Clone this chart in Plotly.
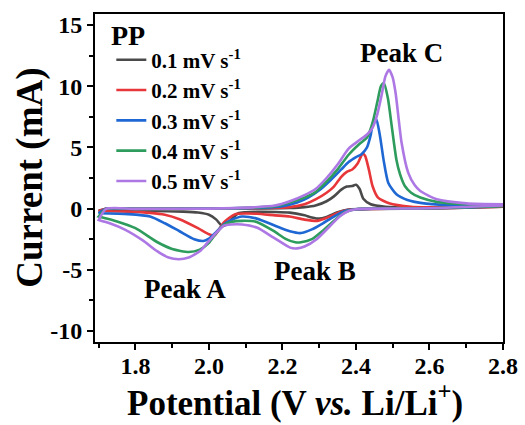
import plotly.graph_objects as go

# ---------------- data ----------------
scan_rates = ["0.1 mV s<sup>-1</sup>", "0.2 mV s<sup>-1</sup>", "0.3 mV s<sup>-1</sup>",
              "0.4 mV s<sup>-1</sup>", "0.5 mV s<sup>-1</sup>"]
colors = ["#4a4a4a", "#e8373a", "#1f68d4", "#2e9c5c", "#ad78e4"]

# 0.1 mV/s
v01_cath = [2.80, 2.60, 2.45, 2.38, 2.35, 2.32, 2.30, 2.28, 2.26, 2.22, 2.18, 2.13, 2.10, 2.08, 2.06, 2.045, 2.035, 2.02, 2.00, 1.97, 1.93, 1.85, 1.70]
i01_cath = [0.15, 0.02, -0.02, -0.08, -0.3, -0.68, -0.82, -0.72, -0.55, -0.33, -0.28, -0.27, -0.3, -0.38, -0.9, -1.35, -1.4, -0.9, -0.5, -0.32, -0.25, -0.2, -0.18]
v01_anod = [1.70, 1.72, 1.80, 2.00, 2.15, 2.22, 2.26, 2.29, 2.32, 2.34, 2.36, 2.375, 2.39, 2.40, 2.41, 2.42, 2.44, 2.48, 2.55, 2.65, 2.80]
i01_anod = [-0.18, -0.02, -0.02, 0.0, 0.02, 0.05, 0.12, 0.25, 0.6, 1.0, 1.55, 1.8, 1.85, 1.95, 1.6, 0.8, 0.35, 0.15, 0.08, 0.1, 0.15]

# 0.2 mV/s
v02_cath = [2.80, 2.60, 2.45, 2.38, 2.355, 2.33, 2.295, 2.26, 2.22, 2.18, 2.13, 2.10, 2.07, 2.04, 2.015, 2.00, 1.97, 1.92, 1.88, 1.84, 1.78, 1.70]
i02_cath = [0.15, 0.02, -0.02, -0.1, -0.3, -0.65, -1.0, -0.9, -0.65, -0.55, -0.42, -0.4, -0.47, -1.14, -2.2, -2.1, -1.6, -0.87, -0.5, -0.35, -0.25, -0.2]
v02_anod = [1.70, 1.72, 1.80, 2.00, 2.15, 2.22, 2.26, 2.29, 2.32, 2.34, 2.36, 2.375, 2.39, 2.405, 2.418, 2.425, 2.435, 2.445, 2.46, 2.49, 2.55, 2.65, 2.80]
i02_anod = [-0.2, -0.02, -0.02, 0.0, 0.05, 0.12, 0.35, 0.75, 1.3, 1.8, 2.6, 3.0, 3.2, 3.7, 4.5, 4.3, 3.2, 1.85, 0.9, 0.43, 0.15, 0.1, 0.15]

# 0.3 mV/s
v03_cath = [2.80, 2.60, 2.45, 2.40, 2.37, 2.34, 2.31, 2.28, 2.25, 2.22, 2.18, 2.13, 2.09, 2.06, 2.04, 2.02, 2.00, 1.985, 1.96, 1.92, 1.88, 1.84, 1.78, 1.70]
i03_cath = [0.2, 0.03, 0.0, -0.05, -0.2, -0.65, -1.2, -1.7, -2.0, -1.85, -1.4, -0.82, -0.65, -0.95, -1.3, -1.9, -2.45, -2.65, -2.5, -1.85, -1.2, -0.65, -0.45, -0.38]
v03_anod = [1.70, 1.72, 1.80, 2.00, 2.15, 2.20, 2.24, 2.27, 2.30, 2.33, 2.36, 2.38, 2.40, 2.415, 2.43, 2.44, 2.448, 2.455, 2.465, 2.475, 2.488, 2.51, 2.54, 2.58, 2.65, 2.80]
i03_anod = [-0.38, -0.02, -0.02, 0.0, 0.08, 0.2, 0.5, 0.9, 1.5, 2.3, 3.2, 3.8, 4.2, 4.45, 5.0, 6.0, 7.2, 7.3, 6.0, 4.0, 2.1, 1.17, 0.7, 0.45, 0.3, 0.2]

# 0.4 mV/s
v04_cath = [2.80, 2.60, 2.45, 2.40, 2.37, 2.34, 2.31, 2.28, 2.25, 2.235, 2.21, 2.176, 2.13, 2.09, 2.06, 2.04, 2.02, 2.00, 1.975, 1.945, 1.90, 1.86, 1.80, 1.75, 1.70]
i04_cath = [0.2, 0.03, 0.0, -0.05, -0.3, -1.0, -1.8, -2.5, -2.75, -2.75, -2.5, -1.83, -1.09, -1.0, -1.1, -1.35, -2.0, -2.8, -3.35, -3.55, -3.3, -2.75, -1.6, -1.05, -0.65]
v04_anod = [1.70, 1.72, 1.80, 2.00, 2.12, 2.18, 2.22, 2.26, 2.29, 2.32, 2.35, 2.38, 2.41, 2.43, 2.445, 2.458, 2.468, 2.476, 2.487, 2.497, 2.51, 2.52, 2.533, 2.55, 2.575, 2.62, 2.70, 2.80]
i04_anod = [-0.65, -0.02, -0.02, 0.0, 0.08, 0.2, 0.5, 0.9, 1.35, 2.2, 3.2, 4.4, 5.3, 5.8, 7.0, 8.7, 10.0, 10.25, 9.0, 6.8, 4.0, 2.8, 1.85, 1.3, 0.9, 0.55, 0.35, 0.25]

# 0.5 mV/s
v05_cath = [2.80, 2.60, 2.45, 2.40, 2.38, 2.357, 2.33, 2.293, 2.26, 2.24, 2.221, 2.176, 2.13, 2.09, 2.06, 2.04, 2.013, 1.99, 1.977, 1.945, 1.918, 1.89, 1.86, 1.82, 1.77, 1.73, 1.70]
i05_cath = [0.25, 0.03, 0.0, -0.05, -0.2, -0.6, -1.4, -2.5, -3.1, -3.25, -3.19, -2.37, -1.55, -1.3, -1.3, -1.4, -2.2, -3.0, -3.45, -4.0, -4.14, -4.0, -3.5, -2.6, -1.7, -1.2, -0.93]
v05_anod = [1.70, 1.72, 1.80, 2.00, 2.12, 2.18, 2.22, 2.26, 2.29, 2.32, 2.35, 2.38, 2.41, 2.43, 2.445, 2.458, 2.47, 2.48, 2.49, 2.50, 2.508, 2.524, 2.542, 2.56, 2.575, 2.62, 2.70, 2.80]
i05_anod = [-0.93, -0.02, -0.02, 0.0, 0.1, 0.25, 0.6, 1.1, 1.6, 2.5, 3.6, 4.9, 5.6, 6.05, 6.6, 7.7, 9.3, 10.8, 11.35, 10.7, 9.4, 5.4, 2.94, 1.9, 1.44, 0.76, 0.43, 0.35]

x_tickvals = [1.8, 2.0, 2.2, 2.4, 2.6, 2.8]
x_ticktext = ["1.8", "2.0", "2.2", "2.4", "2.6", "2.8"]
y_tickvals = [-10, -5, 0, 5, 10, 15]
y_ticktext = ["-10", "-5", "0", "5", "10", "15"]

peak_labels = ["Peak A", "Peak B", "Peak C"]
peak_x = [1.936, 2.289, 2.524]
peak_y = [-6.6, -5.1, 12.75]

sample_label = "PP"
x_title = "Potential (V <i>vs.</i> Li/Li<sup>+</sup>)"
y_title = "Current (mA)"

# ---------------- figure ----------------
curves = [
    (v01_cath + v01_anod, i01_cath + i01_anod),
    (v02_cath + v02_anod, i02_cath + i02_anod),
    (v03_cath + v03_anod, i03_cath + i03_anod),
    (v04_cath + v04_anod, i04_cath + i04_anod),
    (v05_cath + v05_anod, i05_cath + i05_anod),
]

FONT = "Liberation Serif, Times New Roman, serif"

fig = go.Figure()
for k, ((vx, iy), name, col) in enumerate(zip(curves, scan_rates, colors)):
    fig.add_trace(go.Scatter(
        x=vx, y=iy, mode="lines", name=name, legendgroup=f"g{k}",
        line=dict(color=col, width=2.6, shape="spline", smoothing=0.6),
    ))

for lab, px, py in zip(peak_labels, peak_x, peak_y):
    fig.add_annotation(x=px, y=py, text=lab, showarrow=False,
                       font=dict(family=FONT, size=27, color="black", weight="bold"))

# sample label (legend heading)
fig.add_annotation(xref="paper", yref="paper", x=0.035, y=0.933, xanchor="left", yanchor="middle",
                   text=sample_label, showarrow=False,
                   font=dict(family=FONT, size=28, color="black", weight="bold"))
# axis titles
fig.add_annotation(xref="paper", yref="paper", x=0.49, y=-0.252, xanchor="center", yanchor="bottom",
                   text=x_title, showarrow=False,
                   font=dict(family=FONT, size=35, color="black", weight="bold"))
fig.add_annotation(xref="paper", yref="paper", x=-0.16, y=0.5, xanchor="center", yanchor="middle",
                   text=y_title, showarrow=False, textangle=-90,
                   font=dict(family=FONT, size=37, color="black", weight="bold"))

fig.update_layout(
    width=525, height=425,
    margin=dict(l=95, r=22, t=14, b=83, autoexpand=False),
    paper_bgcolor="white", plot_bgcolor="white",
    font=dict(family=FONT, color="black"),
    showlegend=True,
    legend=dict(
        x=0.04, y=0.922, xanchor="left", yanchor="top",
        bgcolor="rgba(0,0,0,0)", borderwidth=0,
        font=dict(family=FONT, size=21, color="black", weight="bold"),
        traceorder="grouped", tracegroupgap=0,
        itemwidth=30,
    ),
)

fig.update_xaxes(
    range=[1.69, 2.8], showgrid=False, zeroline=False, automargin=False,
    showline=True, linewidth=2, linecolor="black", mirror=True,
    ticks="outside", ticklen=6, tickwidth=2, tickcolor="black",
    ticklabelstandoff=-5,
    tickvals=x_tickvals, ticktext=x_ticktext,
    tickfont=dict(family=FONT, size=24, color="black", weight="bold"),
    minor=dict(ticks="outside", ticklen=4, tickwidth=1.5, tickcolor="black", dtick=0.1, tick0=1.7),
)
fig.update_yaxes(
    range=[-10.9, 15.9], showgrid=False, zeroline=False, automargin=False,
    showline=True, linewidth=2, linecolor="black", mirror=True,
    ticks="outside", ticklen=6, tickwidth=2, tickcolor="black",
    tickvals=y_tickvals, ticktext=y_ticktext,
    tickfont=dict(family=FONT, size=24, color="black", weight="bold"),
    minor=dict(ticks="outside", ticklen=4, tickwidth=1.5, tickcolor="black", dtick=2.5, tick0=0),
)

# remove the page's default body margin so the 525x425 figure fills the window exactly
fig.write_html("out.html", config={"displayModeBar": False},
               post_script="document.body.style.margin='0';")
